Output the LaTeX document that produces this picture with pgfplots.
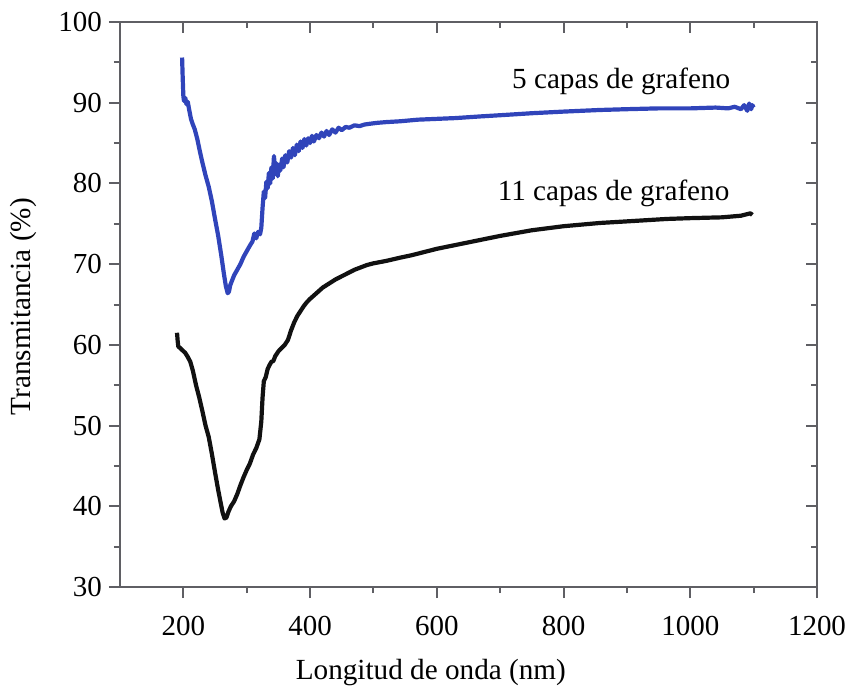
\documentclass[border=0pt]{standalone}
\usepackage{fontspec}
\setmainfont{Liberation Serif}
\usepackage{pgfplots}
\pgfplotsset{compat=1.18}

\definecolor{axisgray}{RGB}{95,95,100}
\definecolor{capa5}{RGB}{48,68,186}
\definecolor{capa11}{RGB}{17,17,17}

% Transmittance spectra (wavelength in nm, transmittance in %)
\pgfplotstableread{
x y
198 95.6
199 93.0
200 90.8
201 90.2
203 90.6
205 89.8
207 90.1
209 89.2
212 88.0
215 87.3
218 86.7
222 85.5
226 84.0
230 82.6
235 81.0
240 79.6
245 77.8
250 75.6
255 73.5
260 71.0
264 68.8
267 67.3
270 66.4
272 66.6
274 67.4
277 68.0
280 68.6
285 69.3
290 70.0
295 70.9
300 71.6
305 72.3
309 72.8
312 73.8
315 73.2
318 74.0
321 73.7
323 74.5
325 77.0
327 79.0
329 78.2
331 80.2
333 79.4
335 81.3
337 80.0
339 82.0
341 80.6
343 83.4
345 81.2
347 82.5
349 80.9
351 82.3
353 81.6
356 83.1
358 82.0
361 83.5
364 82.6
367 84.0
370 83.2
373 84.4
376 83.5
379 84.8
382 84.0
385 85.2
388 84.4
391 85.5
394 84.7
397 85.6
400 85.0
403 85.9
406 85.2
410 86.0
414 85.6
418 86.3
422 85.8
426 86.5
430 86.0
435 86.7
440 86.3
445 86.9
450 86.6
456 87.0
462 86.9
470 87.2
478 87.1
486 87.3
495 87.4
505 87.5
520 87.6
542 87.7
570 87.9
600 88.0
630 88.1
668 88.3
710 88.5
750 88.7
800 88.9
857 89.1
900 89.2
950 89.3
1000 89.3
1040 89.4
1060 89.3
1070 89.5
1080 89.2
1085 89.7
1090 89.0
1093 89.9
1096 89.2
1098 89.7
1100 89.4
}\cincocapas

\pgfplotstableread{
x y
190 61.5
191 60.5
192 59.8
195 59.6
199 59.3
203 59.0
207 58.5
211 57.9
215 56.8
220 55.0
225 53.5
230 51.8
235 50.0
240 48.6
245 46.5
250 44.2
255 42.0
259 40.4
262 39.2
265 38.5
268 38.6
271 39.3
275 40.0
280 40.6
285 41.5
290 42.6
295 43.6
300 44.5
305 45.3
310 46.4
315 47.2
320 48.3
323 50.5
325 53.5
327 55.5
330 56.0
333 57.0
336 57.5
339 57.9
342 58.0
345 58.6
350 59.2
355 59.6
360 60.0
365 60.6
370 61.8
375 62.8
380 63.6
385 64.2
390 64.8
395 65.3
400 65.7
410 66.4
420 67.1
430 67.6
440 68.1
450 68.5
460 68.9
470 69.3
480 69.6
490 69.9
500 70.1
520 70.4
542 70.8
560 71.1
580 71.5
600 71.9
625 72.3
650 72.7
700 73.5
750 74.2
800 74.7
857 75.1
900 75.3
963 75.6
1000 75.7
1050 75.8
1080 76.0
1095 76.3
1098 76.1
}\oncecapas

\pgfplotsset{
  base/.style={
    at={(0,0)}, anchor=south west,
    scale only axis, width=348.5pt, height=282.5pt,
    xmin=100, xmax=1200, ymin=30, ymax=100,
    xtick={200,400,...,1200}, ytick={30,40,...,100},
    minor x tick num=1, minor y tick num=1,
    major tick length=5.5pt, minor tick length=3pt,
    axis line style={axisgray, line width=1.4pt},
    every tick/.style={axisgray, line width=1pt},
    /pgf/number format/assume math mode=true,
    /pgf/number format/1000 sep={},
    tick label style={font=\fontsize{14.5}{17}\selectfont, text=black},
  },
}

\begin{document}
\begin{tikzpicture}
\useasboundingbox (-60pt,-55.5pt) rectangle (364pt,293.5pt);

% bottom and left: ticks outward, with labels
\begin{axis}[base,
  xtick pos=lower, ytick pos=left, tick align=outside,
  xticklabel style={yshift=-5.5pt},
  xlabel={Longitud de onda (nm)},
  ylabel={Transmitancia (\%)},
  label style={font=\fontsize{14.6}{17}\selectfont},
  x label style={at={(axis description cs:0.446,-0.152)}, anchor=center},
  y label style={at={(axis description cs:-0.139,0.496)}, anchor=center, rotate=0},
]
\addplot[capa5, line width=2.1pt, line join=round] table[x=x, y=y] {\cincocapas};
\addplot[capa11, line width=2.1pt, line join=round] table[x=x, y=y] {\oncecapas};
\node[font=\fontsize{14.6}{17}\selectfont] at (axis cs:891,92.7) {5 capas de grafeno};
\node[font=\fontsize{14.6}{17}\selectfont] at (axis cs:879,78.8) {11 capas de grafeno};
\end{axis}

% top and right: ticks inward, no labels
\begin{axis}[base,
  xtick pos=upper, ytick pos=right, tick align=inside,
  xticklabels={}, yticklabels={},
]
\end{axis}
\end{tikzpicture}
\end{document}
